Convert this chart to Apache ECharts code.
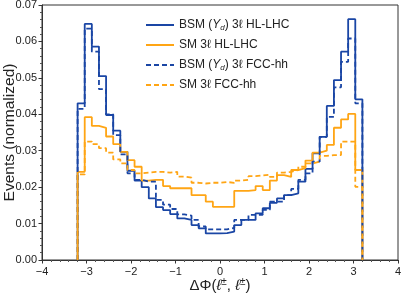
<!DOCTYPE html>
<html>
<head>
<meta charset="utf-8">
<script src="https://cdn.jsdelivr.net/npm/echarts@6/dist/echarts.min.js"></script>
<style>html,body{margin:0;padding:0;background:#fff}#c{width:401px;height:295px}</style>
</head>
<body>
<div id="c"></div>
<script>
const binEdges = [-3.2,-3.04,-2.88,-2.72,-2.56,-2.4,-2.24,-2.08,-1.92,-1.76,-1.6,-1.44,-1.28,-1.12,-0.96,-0.8,-0.64,-0.48,-0.32,-0.16,0,
  0.16,0.32,0.48,0.64,0.8,0.96,1.12,1.28,1.44,1.6,1.76,1.92,2.08,2.24,2.4,2.56,2.72,2.88,3.04,3.2];
const bsmHL = [0.0430,0.0648,0.0586,0.0505,0.0398,0.0355,0.0297,0.0245,0.0218,0.0200,
  0.0169,0.0145,0.0137,0.0126,0.0114,0.0110,0.0096,0.0087,0.0073,0.0073,
  0.0074,0.0078,0.0096,0.0110,0.0110,0.0128,0.0142,0.0157,0.0169,0.0178,
  0.0183,0.0215,0.0250,0.0293,0.0338,0.0423,0.0494,0.0572,0.0661,0.0441];
const smHL = [0.0242,0.0392,0.0368,0.0363,0.0339,0.0318,0.0297,0.0274,0.0256,0.0218,
  0.0220,0.0220,0.0203,0.0197,0.0197,0.0197,0.0178,0.0178,0.0160,0.0146,
  0.0146,0.0146,0.0190,0.0190,0.0192,0.0203,0.0192,0.0218,0.0233,0.0228,
  0.0247,0.0252,0.0273,0.0295,0.0300,0.0316,0.0363,0.0386,0.0401,0.0247];
const bsmFCC = [0.0415,0.0635,0.0572,0.0469,0.0400,0.0343,0.0290,0.0238,0.0220,0.0215,
  0.0215,0.0165,0.0152,0.0140,0.0125,0.0122,0.0110,0.0092,0.0084,0.0084,
  0.0084,0.0088,0.0110,0.0110,0.0124,0.0124,0.0138,0.0160,0.0160,0.0178,
  0.0195,0.0220,0.0238,0.0270,0.0338,0.0393,0.0474,0.0544,0.0608,0.0430];
const smFCC = [0.0235,0.0325,0.0318,0.0307,0.0295,0.0276,0.0265,0.0247,0.0238,0.0240,
  0.0242,0.0242,0.0240,0.0242,0.0229,0.0226,0.0212,0.0210,0.0212,0.0212,
  0.0214,0.0212,0.0218,0.0220,0.0230,0.0232,0.0234,0.0228,0.0240,0.0242,
  0.0247,0.0256,0.0265,0.0270,0.0286,0.0288,0.0288,0.0325,0.0325,0.0201];
const seriesNames = ['BSM (Yd) 3ℓ HL-LHC','SM 3ℓ HL-LHC','BSM (Yd) 3ℓ FCC-hh','SM 3ℓ FCC-hh'];
const xTicks = [-4,-3,-2,-1,0,1,2,3,4];
const yTicks = [0,0.01,0.02,0.03,0.04,0.05,0.06,0.07];

function hist(vals){
  const pts=[[binEdges[0],0]];
  for(let i=0;i<vals.length;i++){
    pts.push([binEdges[i],vals[i]]);
    pts.push([binEdges[i+1],vals[i]]);
  }
  pts.push([binEdges[binEdges.length-1],0]);
  return pts;
}
const BLUE='#1a46a5', ORANGE='#ffa514';
const chart = echarts.init(document.getElementById('c'), null, {renderer:'canvas'});
const FONT='Liberation Sans';
function mk(name, vals, color, type){
  return {name, type:'line', data:hist(vals), symbol:'circle', showSymbol:false,
    lineStyle:{color, width:1.8, type: type==='dashed'?[5,3]:'solid'}, itemStyle:{color}, animation:false};
}
const axisCommon = {
  axisLine:{show:true,onZero:false,lineStyle:{color:'#333',width:1}},
  axisTick:{show:true,inside:false,length:3.5,lineStyle:{color:'#333'}},
  minorTick:{show:true,splitNumber:5,length:2,lineStyle:{color:'#555'}},
  splitLine:{show:false},
  nameMoveOverlap:false
};
chart.setOption({
  animation:false,
  grid:{left:42,right:3,top:5,bottom:35,show:true,borderColor:'#333',borderWidth:1,
    containLabel:false, outerBoundsMode:'none'},
  legend:{
    orient:'vertical', left:140, top:13, itemWidth:28, itemHeight:12, itemGap:6,
    data:seriesNames,
    itemStyle:{color:'rgba(0,0,0,0)',borderWidth:0,opacity:0},
    textStyle:{fontFamily:FONT,fontSize:12,color:'#222',lineHeight:14,
      rich:{i:{fontStyle:'italic',fontFamily:FONT,fontSize:12,color:'#222',lineHeight:14},
            sub:{fontStyle:'italic',fontFamily:FONT,fontSize:8,color:'#222',lineHeight:14,padding:[5,0,0,0]}}},
    formatter:function(n){
      return n.replace('(Yd)','({i|Y}{sub|d})');
    }
  },
  xAxis:Object.assign({type:'value',min:-4,max:4,interval:1,
    name:'{n|ΔΦ(}{i|ℓ}{sup|±}{n|, }{i|ℓ}{sup|±}{n|)}',
    nameLocation:'middle', nameGap:17,
    nameTextStyle:{fontFamily:FONT,fontSize:15,color:'#222',
      rich:{n:{fontFamily:FONT,fontSize:15,color:'#222'},
            i:{fontFamily:FONT,fontStyle:'italic',fontSize:15,color:'#222'},
            sup:{fontFamily:FONT,fontSize:10,color:'#222',padding:[0,0,8,0]}}}
  },axisCommon,{axisLabel:{color:'#222',fontFamily:FONT,fontSize:11,margin:6,
    formatter:v=>(v<0?'\u2212'+Math.abs(v):String(v))}}),
  yAxis:Object.assign({type:'value',min:0,max:0.07,interval:0.01,
    name:'Events (normalized)', nameLocation:'middle', nameGap:24,
    nameTextStyle:{fontFamily:FONT,fontSize:15.5,color:'#222'}
  },axisCommon,{axisLabel:{color:'#222',fontFamily:FONT,fontSize:11,margin:5,
    formatter:v=>v.toFixed(2)}}),
  series:[
    mk(seriesNames[0], bsmHL, BLUE,'solid'),
    mk(seriesNames[1], smHL, ORANGE,'solid'),
    mk(seriesNames[2], bsmFCC, BLUE,'dashed'),
    mk(seriesNames[3], smFCC, ORANGE,'dashed')
  ]
});
</script>
</body>
</html>
